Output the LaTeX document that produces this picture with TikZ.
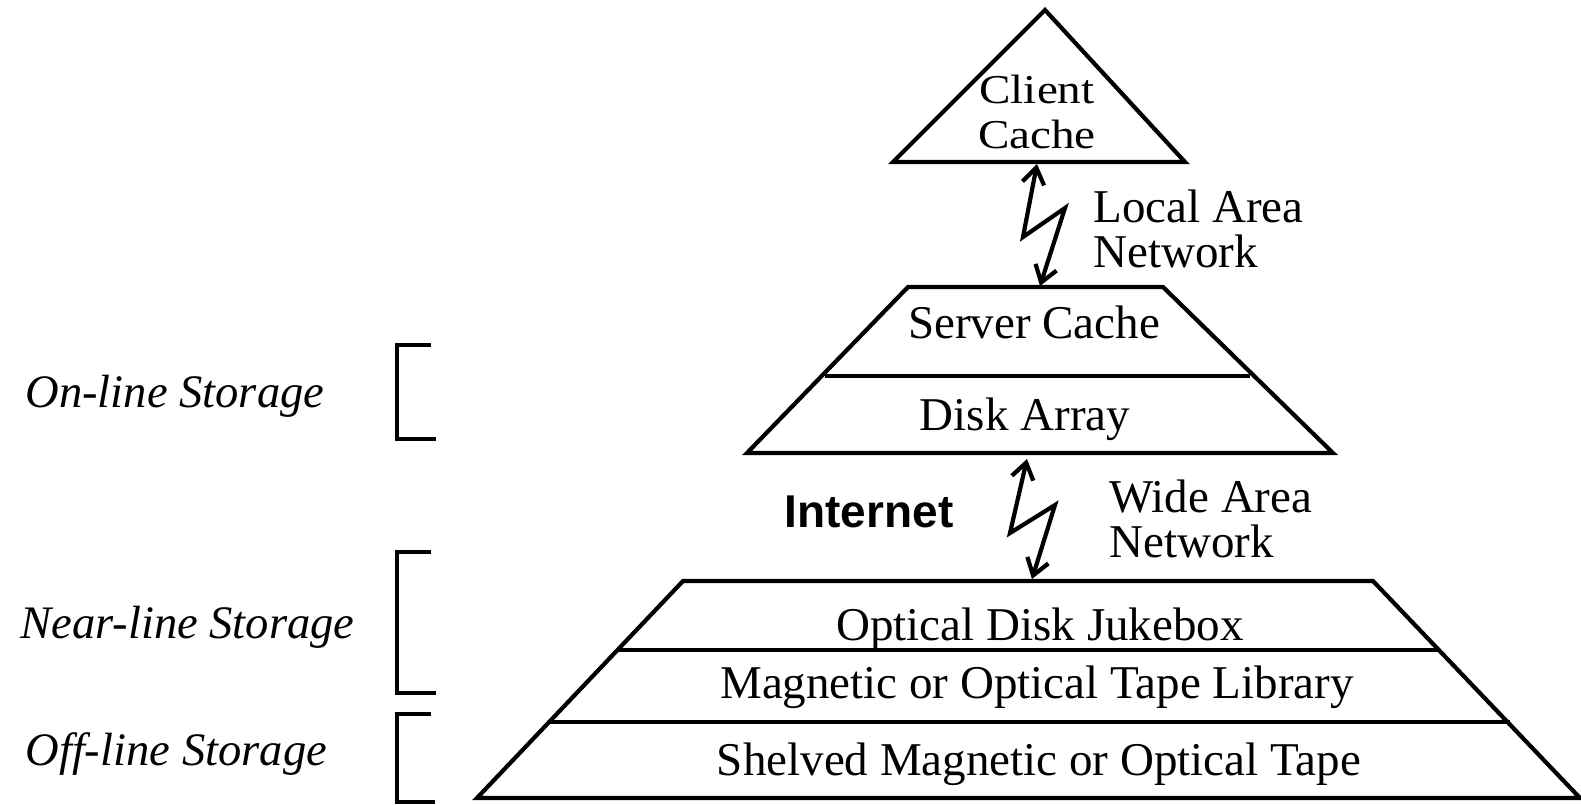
\documentclass[tikz,border=0pt]{standalone}
\usepackage{fontspec}
\setmainfont{Liberation Serif}
\newfontfamily\clientfont[FakeStretch=1.15]{Liberation Serif}
\newfontfamily\netfont{Liberation Sans}
\usepackage{tikz}
\usetikzlibrary{arrows.meta}
\tikzset{
  % outline of a storage tier
  tier/.style={line width=2.1pt, line join=miter},
  % text inside a tier
  tiertext/.style={inner sep=0pt, anchor=base, font=\fontsize{23.5}{22.5}\selectfont},
  % storage class on the left
  classlabel/.style={inner sep=0pt, anchor=base west, font=\fontsize{23.3}{22.5}\selectfont\itshape},
  % network name next to a link
  netlabel/.style={inner sep=0pt, anchor=base west, align=left, font=\fontsize{23.5}{22.5}\selectfont},
  % square bracket
  bracket/.style={line width=2.1pt, line join=miter},
  % lightning link
  zap/.style={line width=2.1pt, line join=miter,
    {Straight Barb[length=8pt,width=11pt]}-{Straight Barb[length=8pt,width=11pt]}},
}

\begin{document}
\begin{tikzpicture}[x=0.5pt, y=-0.5pt]
  \useasboundingbox (0,0) rectangle (1581,804);

  %% ---- CLIENT ----
  \draw[tier] (893,162) -- (1045,10) -- (1185,162) -- cycle;
  \node[tiertext, align=center, font=\clientfont\fontsize{20.5}{22.5}\selectfont]
    (cc) at (1037,148) {Client\\Cache};

  %% ---- SERVER ----
  \draw[tier] (747,453) -- (908,287) -- (1163,287) -- (1333,453) -- cycle;
  \draw[tier] (825,376) -- (1250,376);
  \node[tiertext] (sc) at (1034,338) {Server Cache};
  \node[tiertext] (da) at (1025,430) {Disk Array};

  %% ---- ARCHIVE ----
  \draw[tier] (477,798) -- (683,581) -- (1373,581) -- (1580,798) -- cycle;
  \draw[tier] (617,650) -- (1438,650);
  \draw[tier] (549,722) -- (1510,722);
  \node[tiertext] (odj) at (1040,640) {Optical Disk Jukebox};
  \node[tiertext] (mtl) at (1037,698) {Magnetic or Optical Tape Library};
  \node[tiertext] (smt) at (1039,775) {Shelved Magnetic or Optical Tape};

  %% ---- LINKS ----
  \coordinate (cc_b) at (1037,164);
  \coordinate (sc_t) at (1040,286);
  \coordinate (da_b) at (1027,459);
  \coordinate (odj_t) at (1032,579);
  \draw[zap] (cc_b) -- (1023,237) -- (1065,208) -- (sc_t);
  \draw[zap] (da_b) -- (1010,533) -- (1055,505) -- (odj_t);
  \node[netlabel] (lan) at (1093,267) {Local Area\\Network};
  \node[netlabel] (wan) at (1109,557) {Wide Area\\Network};
  \node[inner sep=0pt, anchor=base, font=\netfont\fontsize{23}{23}\selectfont\bfseries]
    (inet) at (869,527) {Internet};

  %% ---- STORAGE CLASSES ----
  \node[classlabel] (online) at (25,407) {On-line Storage};
  \node[classlabel] (nearline) at (20,638) {Near-line Storage};
  \node[classlabel] (offline) at (25,765) {Off-line Storage};
  \draw[bracket] (431,345) -- (397,345) -- (397,439) -- (436,439);
  \draw[bracket] (431,552) -- (397,552) -- (397,693) -- (436,693);
  \draw[bracket] (431,714) -- (397,714) -- (397,802) -- (435,802);

\end{tikzpicture}
\end{document}
